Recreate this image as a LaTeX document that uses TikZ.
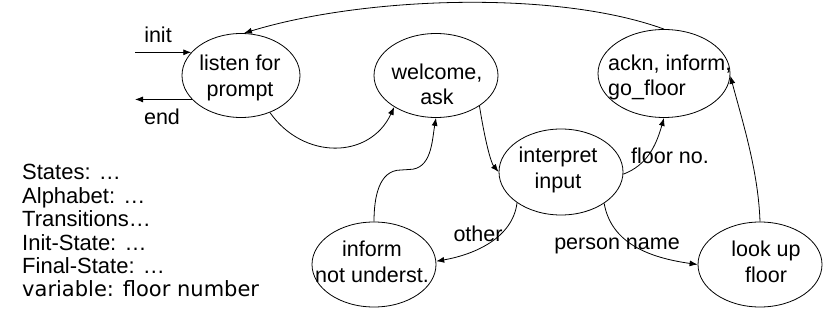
\documentclass[tikz,border=0pt]{standalone}
\usepackage{fontspec}
\setmainfont{Liberation Sans}
\newfontfamily\comicfont{DejaVu Sans}
\usetikzlibrary{shapes.geometric,arrows.meta}
\begin{document}
\begin{tikzpicture}[x=1pt,y=1pt,
  st/.style={draw, ellipse, inner sep=0pt, line width=0.8pt},
  lbl/.style={font=\fontsize{21.5}{25.8}\selectfont, inner sep=0pt, anchor=base},
  lbw/.style={lbl, anchor=base west},
  lst/.style={font=\fontsize{22}{23.3}\selectfont, inner sep=0pt, anchor=base west},
  arr/.style={line width=0.8pt, -{Latex[length=8pt,width=6pt]}}]
\useasboundingbox (0,0) rectangle (829,324);

% states
\node[st, minimum width=118pt, minimum height=84pt] (listen) at (241,248.5) {};
\node[st, minimum width=124pt, minimum height=84pt] (welcome) at (436,248.5) {};
\node[st, minimum width=132pt, minimum height=88pt] (ackn) at (664,250.5) {};
\node[st, minimum width=124pt, minimum height=86pt] (interpret) at (561,152) {};
\node[st, minimum width=124pt, minimum height=85pt] (inform) at (374,59.5) {};
\node[st, minimum width=124pt, minimum height=85pt] (look) at (760,59.5) {};

% state texts
\node[lbl] (listenA) at (240,253) {listen for};
\node[lbl] (listenB) at (240,227) {prompt};
\node[lbl] (welcomeA) at (437,244) {welcome,};
\node[lbl] (welcomeB) at (437,219) {ask};
\node[lbw] (acknA) at (608,253) {ackn, inform,};
\node[lbw] (acknB) at (608,228) {go\_floor};
\node[lbl] (interpretA) at (558,161) {interpret};
\node[lbl] (interpretB) at (558,135) {input};
\node[lbl] (informA) at (372,68) {inform};
\node[lbl] (informB) at (372,42) {not underst.};
\node[lbl] (lookA) at (766,68) {look up};
\node[lbl] (lookB) at (766,42) {floor};

% edge labels
\node[lbl] (initL) at (158,281.3) {init};
\node[lbl] (endL) at (162,199) {end};
\node[lbw] (floorL) at (631,160) {floor no.};
\node[lbl] (otherL) at (478,83) {other};
\node[lbl] (personL) at (617,75) {person name};

% left list
\node[lst] (l1) at (22,144) {States: …};
\node[lst] (l2) at (22,120.7) {Alphabet: …};
\node[lst] (l3) at (22,97.3) {Transitions…};
\node[lst] (l4) at (22,74) {Init-State: …};
\node[lst] (l5) at (22,50.7) {Final-State: …};
\node[inner sep=0pt, anchor=base west, font=\comicfont\fontsize{21}{23}\selectfont] (l6) at (22,27.3) {variable: floor number};

% init / end
\coordinate (initX) at (135,0);
\draw[arr] (listen.155 -| initX) -- (listen.155);
\draw[arr] (listen.206) -- (listen.206 -| initX);

% transitions
\draw[arr] (listen.-52) to[out=-55,in=-115,out distance=58pt,in distance=58pt] (welcome.-143);
\draw[arr] (welcome.-35) to[out=-81,in=130,out distance=35pt,in distance=12pt] (interpret.180);
\draw[arr] (interpret.-2) to[out=21,in=-106,out distance=25pt,in distance=30pt] (ackn.-90);
\draw[arr] (interpret.-145) to[out=-97,in=10,out distance=35pt,in distance=40pt] (inform.3);
\draw[arr] (interpret.-36) to[out=-80,in=172,out distance=40pt,in distance=50pt] (look.180);
\coordinate (kinkA) at (401,154);
\coordinate (kinkB) at (409,154.5);
\draw[arr] (inform.90) to[out=90,in=180] (kinkA) -- (kinkB) to[out=0,in=-100] (welcome.-90);
\draw[arr] (look.90) to[out=92,in=-75,out distance=50pt,in distance=50pt] (ackn.-2);
\draw[arr] (ackn.90) to[out=160,in=17,out distance=115pt,in distance=125pt] (listen.86);
\end{tikzpicture}
\end{document}
